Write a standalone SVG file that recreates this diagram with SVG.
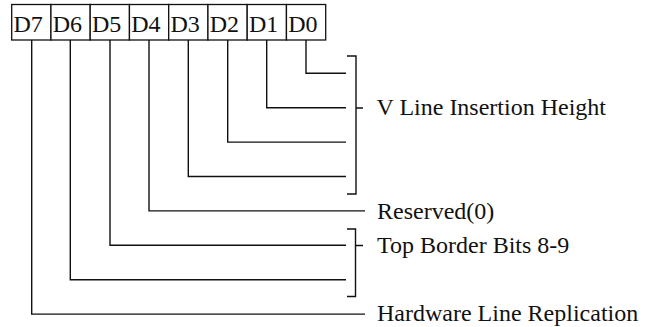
<svg xmlns="http://www.w3.org/2000/svg" width="652" height="327" viewBox="0 0 652 327">
<style>
text{font-family:"Liberation Serif","Times New Roman",serif;font-size:24px;fill:#111}
.cell{fill:#fff;stroke:#111;stroke-width:1.3}
.ln{fill:none;stroke:#111;stroke-width:1.4}
</style>
<rect width="652" height="327" fill="#fff"/>
<g id="register">
<g id="bit-D7"><rect class="cell" x="11.7" y="4.5" width="39.25" height="35.5"/><text x="13.5" y="32">D7</text></g>
<g id="bit-D6"><rect class="cell" x="50.95" y="4.5" width="39.25" height="35.5"/><text x="52.7" y="32">D6</text></g>
<g id="bit-D5"><rect class="cell" x="90.2" y="4.5" width="39.25" height="35.5"/><text x="92" y="32">D5</text></g>
<g id="bit-D4"><rect class="cell" x="129.45" y="4.5" width="39.25" height="35.5"/><text x="131.2" y="32">D4</text></g>
<g id="bit-D3"><rect class="cell" x="168.7" y="4.5" width="39.25" height="35.5"/><text x="170.5" y="32">D3</text></g>
<g id="bit-D2"><rect class="cell" x="207.95" y="4.5" width="39.25" height="35.5"/><text x="209.7" y="32">D2</text></g>
<g id="bit-D1"><rect class="cell" x="247.2" y="4.5" width="39.25" height="35.5"/><text x="249" y="32">D1</text></g>
<g id="bit-D0"><rect class="cell" x="286.45" y="4.5" width="39.25" height="35.5"/><text x="288.2" y="32">D0</text></g>
</g>
<g id="connectors">
<path class="ln" d="M306,40 V73.3 H346"/>
<path class="ln" d="M266.7,40 V107.7 H346"/>
<path class="ln" d="M227.7,40 V142.1 H346"/>
<path class="ln" d="M188.3,40 V176.5 H346"/>
<path class="ln" d="M149,40 V210.9 H365"/>
<path class="ln" d="M110,40 V245.3 H346"/>
<path class="ln" d="M70.3,40 V279.7 H346"/>
<path class="ln" d="M31.7,40 V314.1 H365"/>
</g>
<g id="bracket-vline">
<path class="ln" d="M347,56 H356 V194 H347 M356,108 H363"/>
<text x="376.5" y="115">V Line Insertion Height</text>
</g>
<g id="label-reserved">
<text x="377" y="218.5">Reserved(0)</text>
</g>
<g id="bracket-topborder">
<path class="ln" d="M347,229 H355.5 V296.5 H347 M355.5,245.5 H363"/>
<text x="377" y="252.5">Top Border Bits 8-9</text>
</g>
<g id="label-hardware">
<text x="377" y="320.5">Hardware Line Replication</text>
</g>
</svg>
